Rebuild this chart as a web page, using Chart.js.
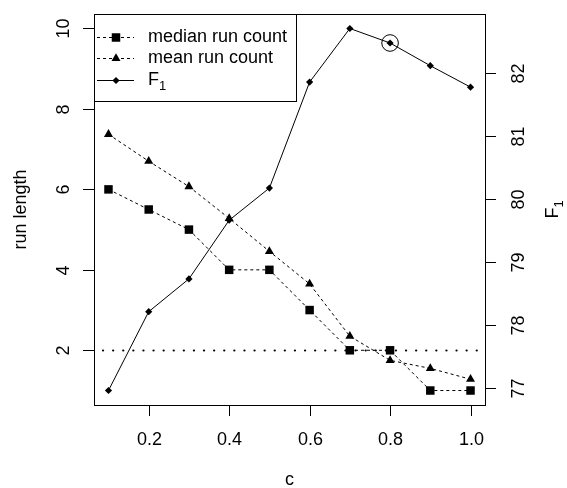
<!DOCTYPE html>
<html>
<head>
<meta charset="utf-8">
<script src="https://cdn.jsdelivr.net/npm/chart.js@4/dist/chart.umd.min.js"></script>
<style>
  html, body { margin: 0; padding: 0; background: #fff; }
  #wrap { width: 567px; height: 488px; }
</style>
</head>
<body>
<div id="wrap"><canvas id="chart" width="567" height="488"></canvas></div>
<script>
// values
const cValues = [0.1, 0.2, 0.3, 0.4, 0.5, 0.6, 0.7, 0.8, 0.9, 1.0];
const medianRunCount = [6, 5.5, 5, 4, 4, 3, 2, 2, 1, 1];
const meanRunCount = [7.37, 6.70, 6.07, 5.28, 4.46, 3.65, 2.35, 1.75, 1.55, 1.28];
const f1Values = [76.96, 78.21, 78.73, 79.66, 80.17, 81.85, 82.70, 82.47, 82.11, 81.77];
const bestIndex = 7;
const thresholdRun = 2;

const xTicks = [0.2, 0.4, 0.6, 0.8, 1.0];
const leftTicks = [2, 4, 6, 8, 10];
const rightTicks = [77, 78, 79, 80, 81, 82];
const leftLimits = [1, 10];

const FONT = '"Liberation Sans", Arial, Helvetica, sans-serif';

// R style 4% axis extension
function extend(lo, hi) {
    const d = (hi - lo) * 0.04;
    return [lo - d, hi + d];
}
const xRange = extend(Math.min(...cValues), Math.max(...cValues));
const yRange = extend(leftLimits[0], leftLimits[1]);
const y2Range = extend(Math.min(...f1Values), Math.max(...f1Values));

const pts = (ys) => cValues.map((x, i) => ({ x, y: ys[i] }));

function drawMarker(ctx, style, x, y) {
    ctx.save();
    ctx.fillStyle = '#000';
    ctx.beginPath();
    if (style === 'rect') {
        ctx.rect(x - 4.25, y - 4.25, 8.5, 8.5);
    } else if (style === 'triangle') {
        const r = 5.2;
        for (let k = 0; k < 3; k++) {
            const a = k * 2 * Math.PI / 3;
            const px = x + Math.sin(a) * r, py = y - Math.cos(a) * r;
            if (k === 0) ctx.moveTo(px, py); else ctx.lineTo(px, py);
        }
        ctx.closePath();
    } else {
        const r = 3.6;
        ctx.moveTo(x - r, y); ctx.lineTo(x, y - r); ctx.lineTo(x + r, y); ctx.lineTo(x, y + r);
        ctx.closePath();
    }
    ctx.fill();
    ctx.restore();
}

function rotText(ctx, text, x, y) {
    ctx.save();
    ctx.translate(x, y);
    ctx.rotate(-Math.PI / 2);
    ctx.fillText(text, 0, 0);
    ctx.restore();
}

const rAxes = {
    id: 'rAxes',
    beforeDatasetsDraw(chart) {
        const { ctx, chartArea: a, scales } = chart;
        // dotted reference line
        const yy = Math.round(scales.y.getPixelForValue(thresholdRun)) + 0.5;
        ctx.save();
        ctx.strokeStyle = '#000';
        ctx.lineWidth = 2.2;
        ctx.lineCap = 'round';
        ctx.setLineDash([0.1, 10]);
        ctx.beginPath();
        ctx.moveTo(a.left + 9, yy);
        ctx.lineTo(a.right, yy);
        ctx.stroke();
        ctx.restore();
    },
    afterDraw(chart) {
        const { ctx, chartArea: a, scales } = chart;
        ctx.save();
        ctx.strokeStyle = '#000';
        ctx.fillStyle = '#000';
        ctx.lineWidth = 1;
        ctx.strokeRect(Math.round(a.left) + 0.5, Math.round(a.top) + 0.5,
            Math.round(a.right - a.left), Math.round(a.bottom - a.top));

        ctx.font = '18px ' + FONT;
        ctx.textAlign = 'center';
        ctx.textBaseline = 'middle';

        // x axis
        xTicks.forEach(v => {
            const px = Math.round(scales.x.getPixelForValue(v)) + 0.5;
            ctx.beginPath();
            ctx.moveTo(px, a.bottom);
            ctx.lineTo(px, a.bottom + 11);
            ctx.stroke();
            ctx.fillText(v.toFixed(1), px, 440);
        });
        // left axis
        leftTicks.forEach(v => {
            const py = Math.round(scales.y.getPixelForValue(v)) + 0.5;
            ctx.beginPath();
            ctx.moveTo(a.left, py);
            ctx.lineTo(a.left - 11, py);
            ctx.stroke();
            rotText(ctx, String(v), 64, py);
        });
        // right axis
        rightTicks.forEach(v => {
            const py = Math.round(scales.y2.getPixelForValue(v)) + 0.5;
            ctx.beginPath();
            ctx.moveTo(a.right, py);
            ctx.lineTo(a.right + 11, py);
            ctx.stroke();
            rotText(ctx, String(v), 519, py);
        });

        // axis titles
        ctx.fillText('c', (a.left + a.right) / 2, 480);
        const midY = (a.top + a.bottom) / 2;
        rotText(ctx, 'run length', 21, midY);
        ctx.save();
        ctx.translate(553, midY);
        ctx.rotate(-Math.PI / 2);
        ctx.textAlign = 'left';
        ctx.fillText('F', -9, 0);
        ctx.font = '13px ' + FONT;
        ctx.fillText('1', 2, 6);
        ctx.restore();

        // legend
        const lx = Math.round(a.left) + 0.5, ly = Math.round(a.top) + 0.5;
        ctx.fillStyle = '#fff';
        ctx.fillRect(lx, ly, 202, 87);
        ctx.strokeRect(lx, ly, 202, 87);
        const rows = [
            { label: 'median run count', marker: 'rect', dash: [3, 3], y: 37 },
            { label: 'mean run count', marker: 'triangle', dash: [3, 3], y: 58 },
            { label: 'F', sub: '1', marker: 'diamond', dash: [], y: 80 }
        ];
        rows.forEach(r => {
            ctx.save();
            ctx.setLineDash(r.dash);
            ctx.beginPath();
            ctx.moveTo(97, r.y + 0.5);
            ctx.lineTo(134, r.y + 0.5);
            ctx.stroke();
            ctx.restore();
            drawMarker(ctx, r.marker, 116, r.y + 0.5);
            ctx.fillStyle = '#000';
            ctx.textAlign = 'left';
            ctx.font = '18px ' + FONT;
            ctx.fillText(r.label, 148, r.y);
            if (r.sub) {
                const w = ctx.measureText(r.label).width;
                ctx.font = '13px ' + FONT;
                ctx.fillText(r.sub, 148 + w, r.y + 6);
            }
        });
        ctx.restore();
    }
};

const dashedLine = { borderColor: '#000', borderWidth: 1, borderDash: [3, 3], backgroundColor: '#000', showLine: true, tension: 0 };

new Chart(document.getElementById('chart'), {
    type: 'scatter',
    data: {
        datasets: [
            {
                label: 'best',
                data: [{ x: cValues[bestIndex], y: f1Values[bestIndex] }],
                yAxisID: 'y2', showLine: false,
                pointStyle: 'circle', pointRadius: 8.3, borderColor: '#000', borderWidth: 1,
                backgroundColor: 'rgba(0,0,0,0)'
            },
            {
                label: 'F1',
                data: pts(f1Values), yAxisID: 'y2',
                showLine: true, borderColor: '#000', borderWidth: 1, backgroundColor: '#000',
                pointStyle: 'rectRot', pointRadius: 3.6, pointBorderWidth: 0
            },
            Object.assign({}, dashedLine, {
                label: 'median run count',
                data: pts(medianRunCount), yAxisID: 'y',
                pointStyle: 'rect', pointRadius: 6, pointBorderWidth: 0
            }),
            Object.assign({}, dashedLine, {
                label: 'mean run count',
                data: pts(meanRunCount), yAxisID: 'y',
                pointStyle: 'triangle', pointRadius: 5.2, pointBorderWidth: 0
            })
        ]
    },
    options: {
        responsive: false,
        animation: false,
        devicePixelRatio: 1,
        layout: { padding: { left: 94, top: 14, right: 82, bottom: 83 } },
        plugins: { legend: { display: false }, tooltip: { enabled: false } },
        scales: {
            x: { type: 'linear', display: false, min: xRange[0], max: xRange[1] },
            y: { type: 'linear', display: false, min: yRange[0], max: yRange[1] },
            y2: { type: 'linear', display: false, min: y2Range[0], max: y2Range[1] }
        }
    },
    plugins: [rAxes]
});
</script>
</body>
</html>
